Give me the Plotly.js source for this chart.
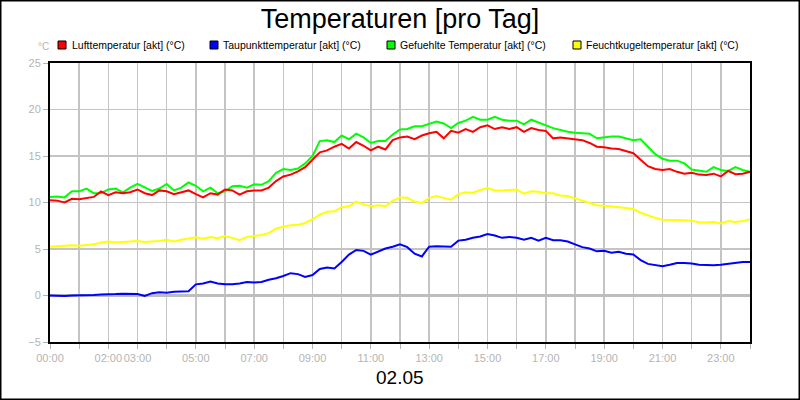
<!DOCTYPE html>
<html>
<head>
<meta charset="utf-8">
<script src="https://cdn.plot.ly/plotly-3.0.1.min.js"></script>
<style>
  html, body { margin: 0; padding: 0; background: #ffffff; }
  #chart { width: 800px; height: 400px; }
</style>
</head>
<body>
<div id="chart"></div>
<script>
// Time of day, one sample every 15 minutes
const times = [
  "00:00","00:15","00:30","00:45","01:00","01:15","01:30","01:45",
  "02:00","02:15","02:30","02:45","03:00","03:15","03:30","03:45",
  "04:00","04:15","04:30","04:45","05:00","05:15","05:30","05:45",
  "06:00","06:15","06:30","06:45","07:00","07:15","07:30","07:45",
  "08:00","08:15","08:30","08:45","09:00","09:15","09:30","09:45",
  "10:00","10:15","10:30","10:45","11:00","11:15","11:30","11:45",
  "12:00","12:15","12:30","12:45","13:00","13:15","13:30","13:45",
  "14:00","14:15","14:30","14:45","15:00","15:15","15:30","15:45",
  "16:00","16:15","16:30","16:45","17:00","17:15","17:30","17:45",
  "18:00","18:15","18:30","18:45","19:00","19:15","19:30","19:45",
  "20:00","20:15","20:30","20:45","21:00","21:15","21:30","21:45",
  "22:00","22:15","22:30","22:45","23:00","23:15","23:30","23:45",
  "24:00"
];

// Lufttemperatur [°C]
const lufttemperatur = [
  10.25,10.2,10.0,10.4,10.35,10.5,10.6,11.2,10.8,11.1,11.0,11.1,11.4,11.0,10.8,11.3,11.2,10.9,11.1,11.3,10.9,10.55,11.0,10.85,
  11.4,11.3,10.85,11.2,11.3,11.3,11.6,12.3,12.8,13.0,13.35,13.8,14.6,15.4,15.6,16.0,16.3,15.8,16.5,16.1,15.6,16.0,15.7,16.7,
  17.0,17.1,16.8,17.2,17.45,17.6,16.9,17.7,17.5,17.9,17.6,18.1,18.3,17.9,18.1,17.9,18.1,17.6,18.0,17.8,17.7,16.9,17.0,16.9,
  16.8,16.7,16.4,16.0,15.95,15.8,15.75,15.5,15.3,14.6,13.9,13.6,13.5,13.6,13.3,13.1,13.2,13.0,12.95,13.1,12.8,13.4,13.05,13.1,
  13.3
];

// Taupunkttemperatur [°C]
const taupunkttemperatur = [
  0.0,-0.05,-0.05,0.0,0.0,0.05,0.05,0.1,0.1,0.15,0.2,0.2,0.15,-0.05,0.25,0.35,0.3,0.4,0.45,0.45,1.2,1.3,1.5,1.3,
  1.2,1.2,1.3,1.45,1.4,1.45,1.7,1.85,2.1,2.4,2.3,2.0,2.2,2.85,3.0,2.9,3.6,4.4,4.9,4.8,4.4,4.7,5.05,5.25,
  5.5,5.2,4.5,4.2,5.25,5.3,5.3,5.25,5.9,6.0,6.2,6.35,6.6,6.45,6.2,6.3,6.2,6.0,6.2,5.9,6.2,5.95,5.95,5.8,
  5.5,5.2,5.05,4.75,4.8,4.6,4.7,4.5,4.4,3.8,3.4,3.25,3.15,3.3,3.5,3.5,3.45,3.3,3.25,3.25,3.3,3.4,3.45,3.6,
  3.6
];

// Gefuehlte Temperatur [°C]
const gefuehlteTemperatur = [
  10.6,10.65,10.55,11.2,11.2,11.5,11.0,11.0,11.4,11.5,11.1,11.6,12.0,11.6,11.25,11.5,12.0,11.3,11.6,12.15,11.8,11.2,11.6,11.0,
  11.2,11.75,11.8,11.6,11.95,11.9,12.3,13.2,13.6,13.5,13.65,14.2,15.0,16.6,16.7,16.5,17.2,16.8,17.4,17.0,16.4,16.6,16.6,17.3,
  17.85,17.9,18.2,18.2,18.45,18.7,18.5,18.0,18.55,18.8,19.2,18.9,18.9,19.2,18.9,18.8,18.8,18.4,18.9,18.6,18.3,18.0,17.8,17.6,
  17.5,17.45,17.4,16.9,17.0,17.1,17.1,16.9,16.7,16.8,16.0,15.2,14.7,14.5,14.5,14.2,13.55,13.45,13.3,13.8,13.5,13.4,13.8,13.5,
  13.3
];

// Feuchtkugeltemperatur [°C]
const feuchtkugeltemperatur = [
  5.25,5.3,5.3,5.4,5.35,5.4,5.5,5.7,5.8,5.7,5.75,5.75,5.85,5.75,5.8,5.85,6.0,5.8,6.0,6.1,6.25,6.1,6.3,6.15,
  6.4,6.2,5.95,6.3,6.4,6.5,6.7,7.2,7.4,7.55,7.6,7.8,8.2,8.7,9.0,9.05,9.5,9.6,10.1,9.8,9.6,9.7,9.6,10.2,
  10.55,10.5,10.1,9.95,10.5,10.7,10.5,10.3,10.9,11.1,11.05,11.35,11.55,11.3,11.3,11.35,11.4,10.95,11.2,11.15,11.0,11.0,10.75,10.7,
  10.45,10.2,9.9,9.7,9.65,9.6,9.5,9.4,9.3,8.9,8.6,8.35,8.15,8.15,8.1,8.1,8.05,7.85,7.85,7.9,7.75,8.0,7.9,8.0,
  8.2
];

// Hour ticks and their labels
const hourTicks = [0,1,2,3,4,5,6,7,8,9,10,11,12,13,14,15,16,17,18,19,20,21,22,23,24];
const hourLabels = ["00:00","","02:00","03:00","","05:00","","07:00","","09:00","","11:00","",
                    "13:00","","15:00","","17:00","","19:00","","21:00","","23:00",""];

const seriesNames = [
  "Lufttemperatur [akt] (°C)",
  "Taupunkttemperatur [akt] (°C)",
  "Gefuehlte Temperatur [akt] (°C)",
  "Feuchtkugeltemperatur [akt] (°C)"
];
const seriesColors = ["#ff0000", "#0000ff", "#00ff00", "#ffff00"];

const titleText = "Temperaturen [pro Tag]";
const dayText = "02.05";
const unitText = "°C";

// "HH:MM" -> hours as a number
function toHours(t) {
  const p = t.split(":");
  return Number(p[0]) + Number(p[1]) / 60;
}
const hours = times.map(toHours);

// Figure geometry (pixels)
const FIG_W = 800, FIG_H = 400;
const M = { l: 50, r: 50, t: 63, b: 58 };
const PW = FIG_W - M.l - M.r, PH = FIG_H - M.t - M.b;
const pxX = x => (x - M.l) / PW;
const pxY = y => (FIG_H - M.b - y) / PH;

const FONT = '"Liberation Sans", Arial, sans-serif';

function lineTrace(y, i) {
  return {
    x: hours, y: y, type: "scatter", mode: "lines",
    name: seriesNames[i], showlegend: false,
    line: { color: seriesColors[i], width: 2 },
    hoverinfo: "skip"
  };
}

const data = [
  lineTrace(taupunkttemperatur, 1),
  lineTrace(feuchtkugeltemperatur, 3),
  lineTrace(gefuehlteTemperatur, 2),
  lineTrace(lufttemperatur, 0)
];

// Legend row: coloured squares with black frame and labels
const legendSquareX = [58, 210, 387, 573];
const legendTextX = [70, 221, 398, 584];
const legendY = 45;

const shapes = [];
const annotations = [];
seriesNames.forEach((name, i) => {
  shapes.push({
    type: "rect", xref: "paper", yref: "paper",
    x0: pxX(legendSquareX[i]), x1: pxX(legendSquareX[i] + 8),
    y0: pxY(legendY - 4), y1: pxY(legendY + 4),
    fillcolor: seriesColors[i], line: { color: "#000000", width: 1 }
  });
  annotations.push({
    xref: "paper", yref: "paper", x: pxX(legendTextX[i]), y: pxY(legendY),
    xanchor: "left", yanchor: "middle", showarrow: false,
    text: name, font: { family: FONT, size: 10.5, color: "#000000" }
  });
});

// Unit label above the y axis
annotations.push({
  xref: "paper", yref: "paper", x: pxX(43), y: pxY(47),
  xanchor: "center", yanchor: "middle", showarrow: false,
  text: unitText, font: { family: FONT, size: 10, color: "#b4b4b4" }
});

// Day label under the time axis
annotations.push({
  xref: "paper", yref: "paper", x: 0.5, y: pxY(378),
  xanchor: "center", yanchor: "middle", showarrow: false,
  text: dayText, font: { family: FONT, size: 19, color: "#000000" }
});

// Frame around the whole figure
shapes.push({
  type: "rect", xref: "paper", yref: "paper", layer: "above",
  x0: pxX(0.5), x1: pxX(FIG_W - 0.5), y0: pxY(FIG_H - 0.5), y1: pxY(0.5),
  line: { color: "#000000", width: 2 }
});

const layout = {
  width: FIG_W, height: FIG_H,
  margin: M,
  paper_bgcolor: "#ffffff", plot_bgcolor: "#ffffff",
  showlegend: false,
  font: { family: FONT, size: 11, color: "#000000" },
  title: {
    text: titleText, x: 0.5, xanchor: "center",
    yref: "container", y: 1 - 19 / FIG_H, yanchor: "middle",
    font: { family: FONT, size: 27, color: "#000000" }
  },
  xaxis: {
    range: [0, 24], type: "linear", fixedrange: true,
    tickmode: "array", tickvals: hourTicks, ticktext: hourLabels,
    tickangle: 0,
    ticks: "outside", ticklen: 5, tickwidth: 1, tickcolor: "#b4b4b4",
    tickfont: { family: FONT, size: 11, color: "#b4b4b4" },
    showgrid: true, gridcolor: "#c4c4c4", gridwidth: 1.5,
    zeroline: false,
    showline: true, linecolor: "#000000", linewidth: 2, mirror: true,
    automargin: false
  },
  yaxis: {
    range: [-5, 25], fixedrange: true,
    tickmode: "linear", tick0: -5, dtick: 5,
    ticks: "outside", ticklen: 5, tickwidth: 1, tickcolor: "#b4b4b4",
    tickfont: { family: FONT, size: 11, color: "#b4b4b4" },
    showgrid: true, gridcolor: "#c4c4c4", gridwidth: 1.5,
    zeroline: true, zerolinecolor: "#bdbdbd", zerolinewidth: 3,
    showline: true, linecolor: "#000000", linewidth: 2, mirror: true,
    automargin: false
  },
  shapes: shapes,
  annotations: annotations
};

Plotly.newPlot("chart", data, layout, { staticPlot: true, displayModeBar: false });
</script>
</body>
</html>
